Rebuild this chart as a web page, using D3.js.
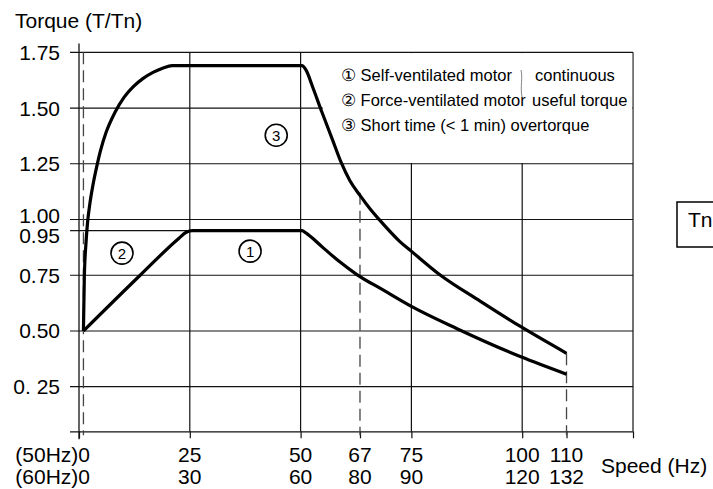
<!DOCTYPE html>
<html>
<head>
<meta charset="utf-8">
<script src="https://cdn.jsdelivr.net/npm/d3@7"></script>
<style>
  html, body { margin: 0; padding: 0; background: #fff; }
  svg { display: block; font-family: "Liberation Sans", Arial, Helvetica, sans-serif; }
</style>
</head>
<body>
<svg id="chart" width="713" height="489"></svg>
<script>
// ---- data ----
const xTickValues = [0, 25, 50, 63.4, 75, 100, 110];
const hz50Labels = ["(50Hz)0", "25", "50", "67", "75", "100", "110"];
const hz60Labels = ["(60Hz)0", "30", "60", "80", "90", "120", "132"];
const xGridValues = [25, 50, 75, 100, 125];
const yTickValues = [0.25, 0.5, 0.75, 0.95, 1.0, 1.25, 1.5, 1.75];
const yTickLabels = ["0. 25", "0.50", "0.75", "0.95", "1.00", "1.25", "1.50", "1.75"];

// curve 3 : short time overtorque
const overSpeed  = [1.0, 1.2, 1.58, 1.92, 2.48, 3.16, 4.0, 4.85, 6.1, 8.1, 10.15, 12.2, 14.4, 16.7, 19, 21, 50.3, 51.2, 52.8, 54.8, 57.1, 59.1, 61.1, 63.4, 65.7, 67.9, 72.4, 75.1, 81.5, 90.5, 99.7, 110];
const overTorque = [0.50, 0.738, 0.895, 0.985, 1.075, 1.156, 1.237, 1.309, 1.39, 1.48, 1.548, 1.595, 1.632, 1.66, 1.68, 1.69, 1.69, 1.671, 1.59, 1.482, 1.363, 1.258, 1.175, 1.108, 1.047, 0.996, 0.901, 0.856, 0.751, 0.634, 0.519, 0.40];

// curve 1 : self-ventilated motor continuous torque
const selfSpeed  = [1.0, 13.8, 22.5, 24.2, 25.6, 50.3, 51.2, 52.1, 55.05, 58.9, 62.7, 68.6, 75.1, 85.3, 99.7, 110];
const selfTorque = [0.50, 0.75, 0.915, 0.943, 0.95, 0.95, 0.94, 0.926, 0.874, 0.809, 0.753, 0.684, 0.609, 0.510, 0.384, 0.306];

// curve 2 : force-ventilated motor (constant torque)
const forceSpeed  = [0, 50.3];
const forceTorque = [0.95, 0.95];

// markers
const markerLabels = ["1", "2", "3"];
const markerSpeed  = [38.6, 9.7, 44.5];
const markerTorque = [0.858, 0.849, 1.378];

const legendLines = ["\u2460 Self-ventilated motor", "\u2461 Force-ventilated motor", "\u2462 Short time (< 1 min) overtorque"];
const legendRight = ["continuous", "useful torque"];

// dashed reference lines [speed, top torque]
const dashSpeed = [1.0, 63.4, 110];
const dashTop   = [1.75, 1.12, 0.40];

// ---- drawing ----
const svg = d3.select("#chart");
const x = d3.scaleLinear().domain([0, 125]).range([79, 633]);
const y = d3.scaleLinear().domain([0.05, 1.75]).range([431.3, 52.3]);

const ink = "#111";

// horizontal gridlines
svg.append("g").selectAll("line")
  .data(yTickValues.filter(v => v !== 0.95))
  .join("line")
  .attr("x1", x(0) - 9).attr("x2", x(125))
  .attr("y1", d => y(d)).attr("y2", d => y(d))
  .attr("stroke", ink).attr("stroke-width", 1.2);

// vertical gridlines
svg.append("g").selectAll("line")
  .data(xGridValues)
  .join("line")
  .attr("x1", d => x(d)).attr("x2", d => x(d))
  .attr("y1", y(1.75)).attr("y2", y(0.05))
  .attr("stroke", ink).attr("stroke-width", 1.2);

// x axis with ticks
const xAxis = d3.axisBottom(x).tickValues(xTickValues.concat([125])).tickSize(7).tickSizeOuter(0).tickFormat("");
const gx = svg.append("g").attr("transform", `translate(0,${y(0.05)})`).call(xAxis);
gx.select(".domain").attr("d", `M${x(0) - 9},0.5H${x(125)}`).attr("stroke", ink).attr("stroke-width", 1.3);
gx.selectAll(".tick line").attr("stroke", ink).attr("stroke-width", 1.2);

// y axis line
svg.append("line")
  .attr("x1", x(0)).attr("x2", x(0))
  .attr("y1", 43.5).attr("y2", y(0.05) + 8)
  .attr("stroke", ink).attr("stroke-width", 1.3);

// legend box (white, hides grid)
svg.append("rect")
  .attr("x", x(55)).attr("y", y(1.75) + 0.8)
  .attr("width", x(125) - x(55) - 0.8).attr("height", y(1.25) - y(1.75) - 1.6)
  .attr("fill", "#fff");

// dashed lines
svg.append("g").selectAll("line")
  .data(dashSpeed)
  .join("line")
  .attr("x1", d => x(d)).attr("x2", d => x(d))
  .attr("y1", (d, i) => y(dashTop[i])).attr("y2", y(0.05) + 4)
  .attr("stroke", "#444").attr("stroke-width", 1.3)
  .attr("stroke-dasharray", "12,6");

// line generator
const line = d3.line().x(d => x(d[0])).y(d => y(d[1])).curve(d3.curveMonotoneX);

// force ventilated (thin, constant torque)
svg.append("path")
  .attr("d", d3.line().x(d => x(d[0])).y(d => y(d[1]))([[forceSpeed[0], forceTorque[0]], [forceSpeed[1], forceTorque[1]]]))
  .attr("stroke", ink).attr("stroke-width", 1.2).attr("fill", "none");
svg.append("line")
  .attr("x1", x(0) - 9).attr("x2", x(0))
  .attr("y1", y(0.95)).attr("y2", y(0.95))
  .attr("stroke", ink).attr("stroke-width", 1.2);

// thick curves
svg.append("path")
  .attr("d", line(selfSpeed.map((s, i) => [s, selfTorque[i]])))
  .attr("stroke", "#000").attr("stroke-width", 3.2).attr("fill", "none")
  .attr("stroke-linejoin", "round");

svg.append("path")
  .attr("d", line(overSpeed.map((s, i) => [s, overTorque[i]])))
  .attr("stroke", "#000").attr("stroke-width", 3.2).attr("fill", "none")
  .attr("stroke-linejoin", "round");

// circled markers
const mk = svg.append("g").selectAll("g")
  .data(markerLabels)
  .join("g")
  .attr("transform", (d, i) => `translate(${x(markerSpeed[i])},${y(markerTorque[i])})`);
mk.append("circle").attr("r", 11).attr("fill", "#fff").attr("stroke", "#000").attr("stroke-width", 1.6);
mk.append("text").text(d => d).attr("text-anchor", "middle").attr("dy", "0.36em")
  .attr("font-size", 15).attr("fill", "#000");

// y tick labels
svg.append("g").selectAll("text")
  .data(yTickValues)
  .join("text")
  .attr("x", 60)
  .attr("y", d => y(d))
  .attr("dy", d => d === 1.0 ? 3 : d === 0.95 ? 12.8 : 7.5)
  .attr("text-anchor", "end")
  .attr("font-size", 21)
  .attr("fill", "#000")
  .text((d, i) => yTickLabels[i]);

// x tick labels (two rows)
svg.append("g").selectAll("text")
  .data(xTickValues)
  .join("text")
  .attr("x", (d, i) => i === 0 ? x(d) + 11 : x(d))
  .attr("y", 461.5)
  .attr("text-anchor", (d, i) => i === 0 ? "end" : "middle")
  .attr("font-size", 21).attr("fill", "#000")
  .text((d, i) => hz50Labels[i]);
svg.append("g").selectAll("text")
  .data(xTickValues)
  .join("text")
  .attr("x", (d, i) => i === 0 ? x(d) + 11 : x(d))
  .attr("y", 483.5)
  .attr("text-anchor", (d, i) => i === 0 ? "end" : "middle")
  .attr("font-size", 21).attr("fill", "#000")
  .text((d, i) => hz60Labels[i]);

// axis titles
svg.append("text").attr("x", 15).attr("y", 28).attr("font-size", 21).attr("fill", "#000").text("Torque (T/Tn)");
svg.append("text").attr("x", 601).attr("y", 473).attr("font-size", 21).attr("fill", "#000").text("Speed (Hz)");

// legend text
svg.append("g").selectAll("text")
  .data(legendLines)
  .join("text")
  .attr("x", 341)
  .attr("y", (d, i) => 81 + i * 25)
  .attr("font-size", 16.5).attr("fill", "#000")
  .text(d => d);
svg.append("g").selectAll("text")
  .data(legendRight)
  .join("text")
  .attr("x", (d, i) => i === 0 ? 535 : 532)
  .attr("y", (d, i) => 81 + i * 25)
  .attr("font-size", 16.5).attr("fill", "#000")
  .text(d => d);
// brace
svg.append("path")
  .attr("d", "M521,70 C523,78 520,86 522,97")
  .attr("stroke", "#777").attr("stroke-width", 0.9).attr("fill", "none");

// Tn box
svg.append("rect").attr("x", 677).attr("y", 202).attr("width", 60).attr("height", 45)
  .attr("fill", "none").attr("stroke", "#000").attr("stroke-width", 1.5);
svg.append("text").attr("x", 688).attr("y", 227).attr("font-size", 21).attr("fill", "#000").text("Tn");
</script>
</body>
</html>
